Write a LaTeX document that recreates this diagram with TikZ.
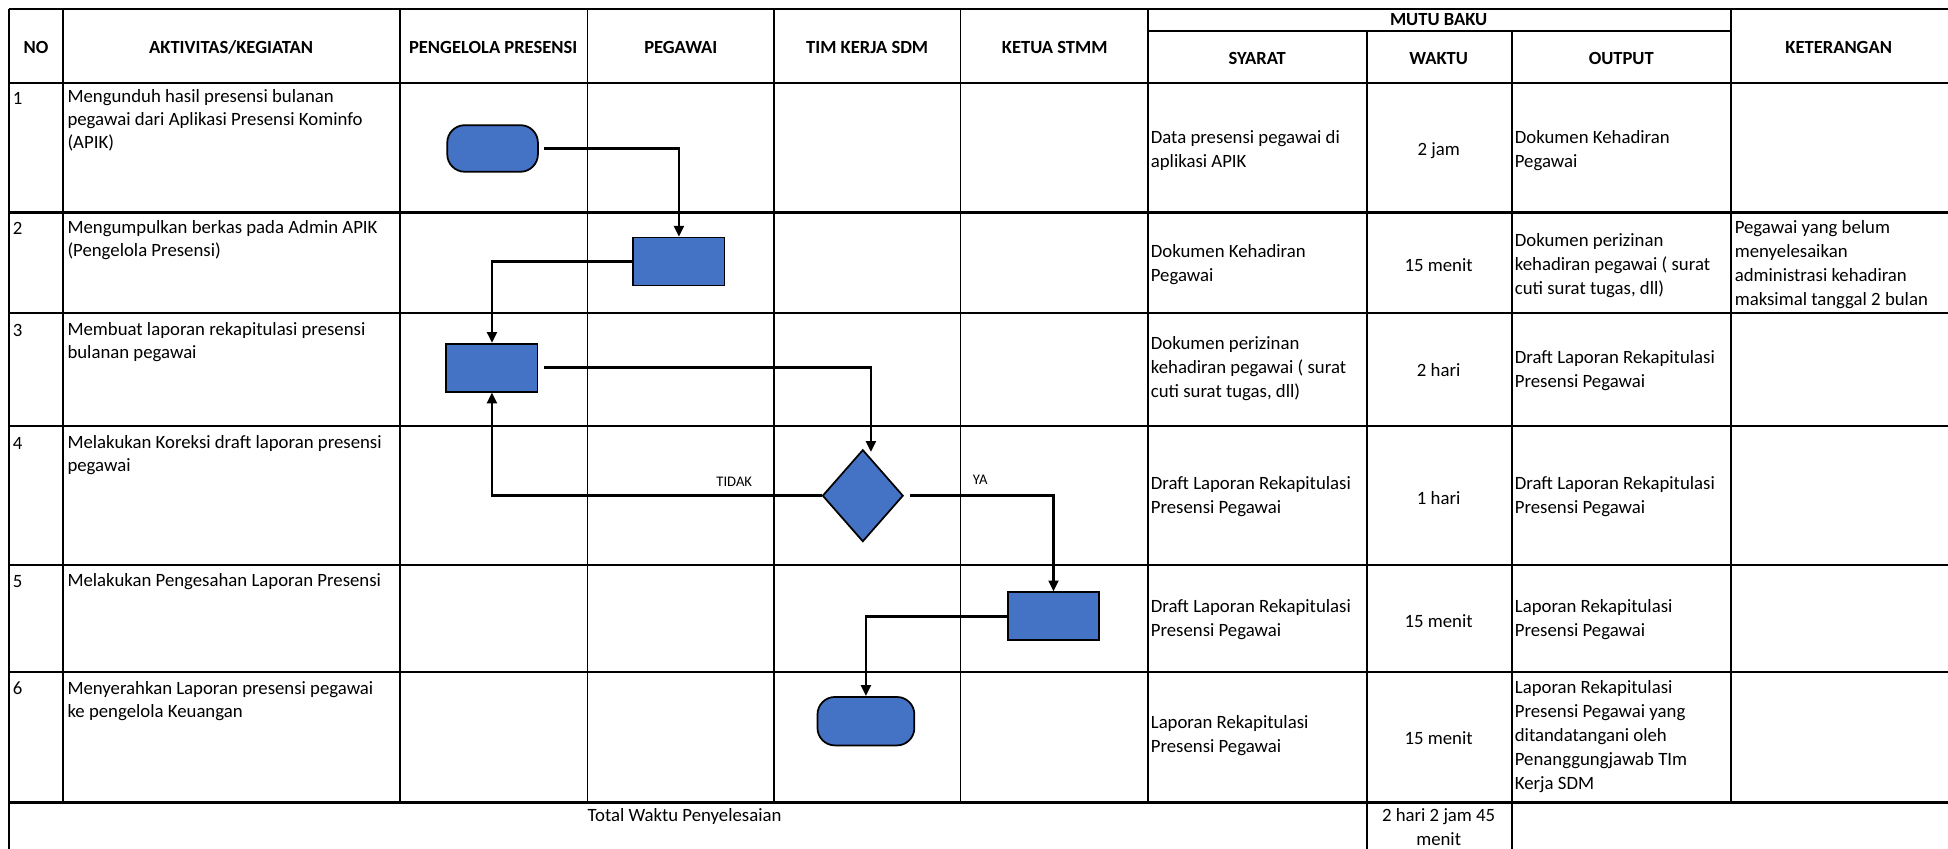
\documentclass[tikz,border=0pt]{standalone}
\usepackage{fontspec}
\setmainfont{Carlito}
\definecolor{flowBlue}{RGB}{68, 114, 196}
\usepackage{tikz}
\usetikzlibrary{shapes.geometric,arrows.meta,positioning,calc}

\begin{document}
\begin{tikzpicture}[x=0.02cm,y=-0.02cm,
        grid/.style={line width=1pt},
        lane/.style={line width=0.7pt},
        head/.style={font=\fontsize{8.5}{10}\selectfont\bfseries,inner sep=0pt,align=center},
        cell/.style={font=\fontsize{8.6}{10.5}\selectfont,inner sep=0pt,align=left,anchor=west},
        mutu/.style={font=\fontsize{8.6}{11}\selectfont,inner sep=0pt,align=left,anchor=west},
        waktu/.style={font=\fontsize{8.6}{11}\selectfont,inner sep=0pt,align=center},
        terminal/.style={draw,fill=flowBlue,line width=0.8pt,rounded corners=8pt,
                        minimum width=1.46cm,minimum height=0.75cm,inner sep=0pt},
        process/.style={draw,fill=flowBlue,line width=0.8pt,
                        minimum width=1.47cm,minimum height=0.77cm,inner sep=0pt},
        decision/.style={draw,fill=flowBlue,line width=0.8pt,diamond,aspect=0.88,
                        minimum width=1.3cm,minimum height=1.48cm,inner sep=0pt},
        flow/.style={line width=1.2pt,-{Triangle[length=5pt,width=4.5pt]}},
        branch/.style={font=\fontsize{6.7}{8}\selectfont,inner sep=0pt}
    ]
        \useasboundingbox (0,0) rectangle (1568,683);

        \draw[grid] (7,7) -- (1575,7);
        \draw[grid] (924,25) -- (1393,25);
        \draw[grid] (7,67) -- (1575,67);
        \draw[grid] (7,171) -- (1575,171);
        \draw[grid] (7,252) -- (1575,252);
        \draw[grid] (7,343) -- (1575,343);
        \draw[grid] (7,455) -- (1575,455);
        \draw[grid] (7,541) -- (1575,541);
        \draw[grid] (7,646) -- (1575,646);
        \draw[grid] (7,7) -- (7,690);
        \draw[grid] (51,7) -- (51,646);
        \draw[grid] (322,7) -- (322,646);
        \draw[lane] (473,7) -- (473,646);
        \draw[lane] (623,7) -- (623,646);
        \draw[lane] (773,7) -- (773,646);
        \draw[grid] (924,7) -- (924,646);
        \draw[grid] (1100,25) -- (1100,690);
        \draw[grid] (1217,25) -- (1217,690);
        \draw[grid] (1393,7) -- (1393,646);

        \node[head] (hNo) at (29,38) {NO};
        \node[head] (hAktivitas) at (186,38) {AKTIVITAS/KEGIATAN};
        \node[head] (hPengelola) at (397,38) {PENGELOLA PRESENSI};
        \node[head] (hPegawai) at (548,38) {PEGAWAI};
        \node[head] (hTim) at (698,38) {TIM KERJA SDM};
        \node[head] (hKetua) at (849,38) {KETUA STMM};
        \node[head] (hMutu) at (1158,16) {MUTU BAKU};
        \node[head] (hSyarat) at (1012,47) {SYARAT};
        \node[head] (hWaktu) at (1158,47) {WAKTU};
        \node[head] (hOutput) at (1305,47) {OUTPUT};
        \node[head] (hKet) at (1480,38) {KETERANGAN};

        \node[cell] (no1) at (10,79) {1};
        \node[cell] (no2) at (10,184) {2};
        \node[cell] (no3) at (10,266) {3};
        \node[cell] (no4) at (10,357) {4};
        \node[cell] (no5) at (10,468) {5};
        \node[cell] (no6) at (10,554) {6};

        \node[cell] (act1) at (54,97) {Mengunduh hasil presensi bulanan\\pegawai dari Aplikasi Presensi Kominfo\\(APIK)};
        \node[cell] (act2) at (54,193) {Mengumpulkan berkas pada Admin APIK\\(Pengelola Presensi)};
        \node[cell] (act3) at (54,275.5) {Membuat laporan rekapitulasi presensi\\bulanan pegawai};
        \node[cell] (act4) at (54,366.5) {Melakukan Koreksi draft laporan presensi\\pegawai};
        \node[cell] (act5) at (54,468) {Melakukan Pengesahan Laporan Presensi};
        \node[cell] (act6) at (54,564) {Menyerahkan Laporan presensi pegawai\\ke pengelola Keuangan};

        \node[mutu] (syarat1) at (926,121) {Data presensi pegawai di\\aplikasi APIK};
        \node[mutu] (syarat2) at (926,213) {Dokumen Kehadiran\\Pegawai};
        \node[mutu] (syarat3) at (926,297) {Dokumen perizinan\\kehadiran pegawai ( surat\\cuti surat tugas, dll)};
        \node[mutu] (syarat4) at (926,400) {Draft Laporan Rekapitulasi\\Presensi Pegawai};
        \node[mutu] (syarat5) at (926,499) {Draft Laporan Rekapitulasi\\Presensi Pegawai};
        \node[mutu] (syarat6) at (926,592) {Laporan Rekapitulasi\\Presensi Pegawai};

        \node[waktu] (waktu1) at (1158,121) {2 jam};
        \node[waktu] (waktu2) at (1158,213) {15 menit};
        \node[waktu] (waktu3) at (1158,298) {2 hari};
        \node[waktu] (waktu4) at (1158,401) {1 hari};
        \node[waktu] (waktu5) at (1158,500) {15 menit};
        \node[waktu] (waktu6) at (1158,594) {15 menit};

        \node[mutu] (output1) at (1219,121) {Dokumen Kehadiran\\Pegawai};
        \node[mutu] (output2) at (1219,214) {Dokumen perizinan\\kehadiran pegawai ( surat\\cuti surat tugas, dll)};
        \node[mutu] (output3) at (1219,298) {Draft Laporan Rekapitulasi\\Presensi Pegawai};
        \node[mutu] (output4) at (1219,400) {Draft Laporan Rekapitulasi\\Presensi Pegawai};
        \node[mutu] (output5) at (1219,499) {Laporan Rekapitulasi\\Presensi Pegawai};
        \node[mutu] (output6) at (1219,593) {Laporan Rekapitulasi\\Presensi Pegawai yang\\ditandatangani oleh\\Penanggungjawab TIm\\Kerja SDM};

        \node[mutu] (ket2) at (1396,213) {Pegawai yang belum\\menyelesaikan\\administrasi kehadiran\\maksimal tanggal 2 bulan};

        \node[waktu] (total) at (551,657) {Total Waktu Penyelesaian};
        \node[waktu] (totalWaktu) at (1158,666) {2 hari 2 jam 45\\menit};

        \node[terminal] (start) at (396.5,119.5) {};
        \node[process] (collect) at (546.5,210.5) {};
        \node[process] (recap) at (396,296) {};
        \node[decision] (check) at (694.5,399) {};
        \node[process] (approve) at (848,496) {};
        \node[terminal,minimum width=1.56cm,minimum height=0.78cm] (finish) at (697,580.5) {};

        \draw[flow] ([xshift=2.5pt]start.east) -| (collect.north);
        \draw[flow] (collect.west) -| (recap.north);
        \draw[flow] ([xshift=2.5pt]recap.east) -| ([xshift=0.13cm,yshift=-0.05cm]check.north);
        \draw[flow] (check.west) -| (recap.south);
        \draw[flow] ([xshift=2.5pt]check.east) -| (approve.north);
        \draw[flow] (approve.west) -| (finish.north);

        \node[branch] (tidak) at (591,388) {TIDAK};
        \node[branch] (ya) at (789,386) {YA};
    \end{tikzpicture}
\end{document}
